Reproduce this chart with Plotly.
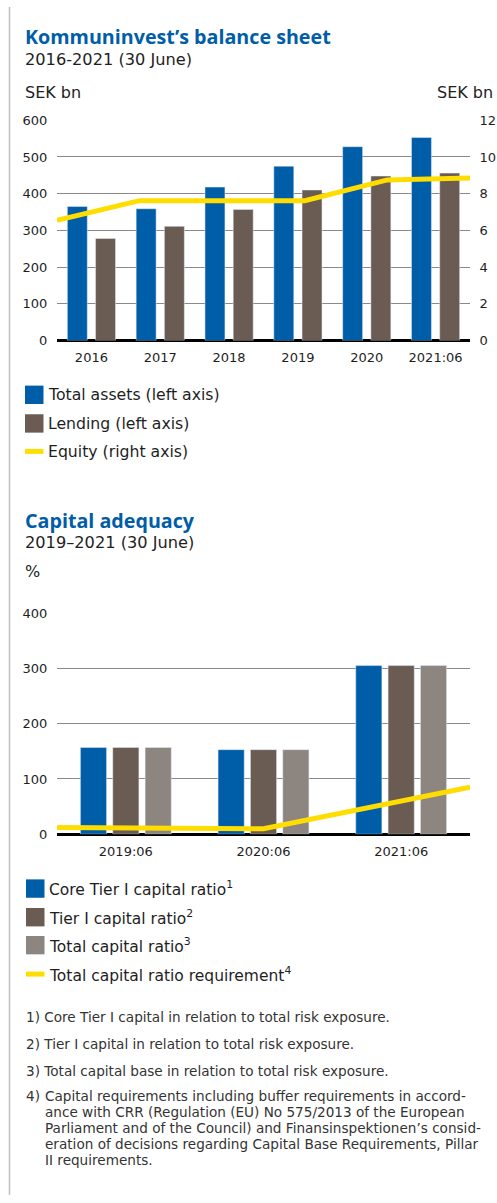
import plotly.graph_objects as go

# ---------------- data ----------------
years = ["2016", "2017", "2018", "2019", "2020", "2021:06"]
total_assets = [365, 359, 418, 475, 528, 553]
lending = [278, 311, 357, 410, 448, 456]
equity = [6.55, 7.62, 7.62, 7.62, 8.75, 8.86]

periods = ["2019:06", "2020:06", "2021:06"]
core_tier1 = [157, 153, 305]
tier1 = [157, 153, 305]
total_capital = [157, 153, 305]
capital_req = [12, 10, 85]

legend1 = ["Total assets (left axis)", "Lending (left axis)", "Equity (right axis)"]
legend2 = ["Core Tier I capital ratio<sup>1</sup>", "Tier I capital ratio<sup>2</sup>",
           "Total capital ratio<sup>3</sup>", "Total capital ratio requirement<sup>4</sup>"]
footnotes = [
    "1) Core Tier I capital in relation to total risk exposure.",
    "2) Tier I capital in relation to total risk exposure.",
    "3) Total capital base in relation to total risk exposure.",
]
footnote4 = [
    "Capital requirements including buffer requirements in accord-",
    "ance with CRR (Regulation (EU) No 575/2013 of the European",
    "Parliament and of the Council) and Finansinspektionen’s consid-",
    "eration of decisions regarding Capital Base Requirements, Pillar",
    "II requirements.",
]

# ---------------- styles ----------------
BLUE = "#005DA8"
BROWN = "#6A5B53"
GRAY = "#8D857F"
YELLOW = "#FFDD00"
TXT = "#1E1E1E"
GRID = "#8A8A8A"
W, H = 497, 1203
TICKFONT = dict(family="DejaVu Sans", size=13, color=TXT)
SANS = "DejaVu Sans"


def px(x):
    return x / W


def py(y):
    return 1 - y / H


XDOM = [px(57), px(470)]

fig = go.Figure()

# chart 1 bars
fig.add_trace(go.Bar(x=years, y=total_assets, marker_color=BLUE, width=0.29, offset=-0.35,
                     xaxis="x", yaxis="y", showlegend=False))
fig.add_trace(go.Bar(x=years, y=lending, marker_color=BROWN, width=0.29, offset=0.06,
                     xaxis="x", yaxis="y", showlegend=False))
fig.add_trace(go.Scatter(x=list(range(len(equity))), y=equity, mode="lines",
                         line=dict(color=YELLOW, width=5), xaxis="x3", yaxis="y2",
                         showlegend=False))

# chart 2 bars
fig.add_trace(go.Bar(x=periods, y=core_tier1, marker_color=BLUE, width=0.19, offset=-0.33,
                     xaxis="x2", yaxis="y3", showlegend=False))
fig.add_trace(go.Bar(x=periods, y=tier1, marker_color=BROWN, width=0.19, offset=-0.095,
                     xaxis="x2", yaxis="y3", showlegend=False))
fig.add_trace(go.Bar(x=periods, y=total_capital, marker_color=GRAY, width=0.19, offset=0.14,
                     xaxis="x2", yaxis="y3", showlegend=False))
fig.add_trace(go.Scatter(x=list(range(len(capital_req))), y=capital_req, mode="lines",
                         line=dict(color=YELLOW, width=5), xaxis="x4", yaxis="y3",
                         showlegend=False))

grid_y = dict(showgrid=True, gridcolor=GRID, gridwidth=1, zeroline=True, zerolinecolor="#000000",
              zerolinewidth=2.5, showline=False, ticks="outside", ticklen=6,
              tickcolor="rgba(0,0,0,0)", tickfont=TICKFONT, fixedrange=True)

fig.update_layout(
    width=W, height=H, margin=dict(l=0, r=0, t=0, b=0),
    paper_bgcolor="white", plot_bgcolor="white", barmode="overlay",
    xaxis=dict(domain=XDOM, anchor="y", type="category", showgrid=False, showline=False,
               ticks="outside", ticklen=5, tickcolor="rgba(0,0,0,0)", tickfont=TICKFONT),
    yaxis=dict(domain=[py(337.7), py(114.7)], range=[0, 600], dtick=100, anchor="x", **grid_y),
    yaxis2=dict(overlaying="y", side="right", range=[0, 12], dtick=2, anchor="x",
                showgrid=False, zeroline=False, showline=False, ticks="outside", ticklen=6,
                tickcolor="rgba(0,0,0,0)", tickfont=TICKFONT),
    xaxis3=dict(overlaying="x", range=[0, len(equity) - 1], visible=False, anchor="y2"),
    xaxis2=dict(domain=XDOM, anchor="y3", type="category", showgrid=False, showline=False,
                ticks="outside", ticklen=5, tickcolor="rgba(0,0,0,0)", tickfont=TICKFONT),
    yaxis3=dict(domain=[py(837.7), py(613.7)], range=[0, 400], dtick=100, anchor="x2", **grid_y),
    xaxis4=dict(overlaying="x2", range=[0, len(capital_req) - 1], visible=False, anchor="y3"),
)

annotations = []
shapes = []


def text(x, y, s, size, color=TXT, family=SANS, xanchor="left"):
    annotations.append(dict(x=px(x), y=py(y), xref="paper", yref="paper", text=s,
                            showarrow=False, xanchor=xanchor, yanchor="middle",
                            font=dict(family=family, size=size, color=color)))


# titles
text(23, 30, "<b>Kommuninvest’s balance sheet</b>", 19.7, color=BLUE, family="Open Sans")
text(23, 53, "2016-2021 (30 June)", 16.2)
text(23, 87, "SEK bn", 16)
text(495, 87, "SEK bn", 16, xanchor="right")

text(23, 520, "<b>Capital adequacy</b>", 19.7, color=BLUE, family="Open Sans")
text(23, 542, "2019–2021 (30 June)", 16.2)
text(23, 572, "%", 16)

# legend 1
leg1_y = [392.7, 421.7, 450]
leg1_c = [BLUE, BROWN]
for i, lab in enumerate(legend1):
    y = leg1_y[i]
    if i < 2:
        shapes.append(dict(type="rect", xref="paper", yref="paper", x0=px(25), x1=px(43.5),
                           y0=py(y - 9.3), y1=py(y + 9.3), fillcolor=leg1_c[i], line_width=0))
    else:
        shapes.append(dict(type="line", xref="paper", yref="paper", x0=px(25), x1=px(43.5),
                           y0=py(y), y1=py(y), line=dict(color=YELLOW, width=5)))
    text(46, y, lab, 15.7)

# legend 2
leg2_y = [892.7, 921.7, 950, 979.3]
leg2_c = [BLUE, BROWN, GRAY]
for i, lab in enumerate(legend2):
    y = leg2_y[i]
    if i < 3:
        shapes.append(dict(type="rect", xref="paper", yref="paper", x0=px(26), x1=px(44.5),
                           y0=py(y - 9.3), y1=py(y + 9.3), fillcolor=leg2_c[i], line_width=0))
    else:
        shapes.append(dict(type="line", xref="paper", yref="paper", x0=px(26), x1=px(44.5),
                           y0=py(y), y1=py(y), line=dict(color=YELLOW, width=5)))
    text(47, y, lab, 15.5)

# footnotes
FN = 13.6
fn_y = [1023, 1050, 1077]
for y, s in zip(fn_y, footnotes):
    text(24, y, s, FN, color="#333333")
text(24, 1103, "4)", FN, color="#333333")
for i, s in enumerate(footnote4):
    text(43, 1103 + 16.2 * i, s, FN, color="#333333")

# left border line
shapes.append(dict(type="line", xref="paper", yref="paper", x0=px(9.5), x1=px(9.5),
                   y0=0, y1=1, line=dict(color="#C4C0BC", width=1.5)))

fig.update_layout(annotations=annotations, shapes=shapes)
fig.write_html(
    "out.html",
    config={"displayModeBar": False, "staticPlot": True},
    post_script=(
        "document.body.style.margin='0';document.body.style.padding='0';"
        "document.documentElement.style.overflow='hidden';"
        "document.body.style.overflow='hidden';"
        "var gd=document.getElementById('{plot_id}');"
        "gd.style.position='fixed';gd.style.top='0px';gd.style.left='0px';"
    ),
)
